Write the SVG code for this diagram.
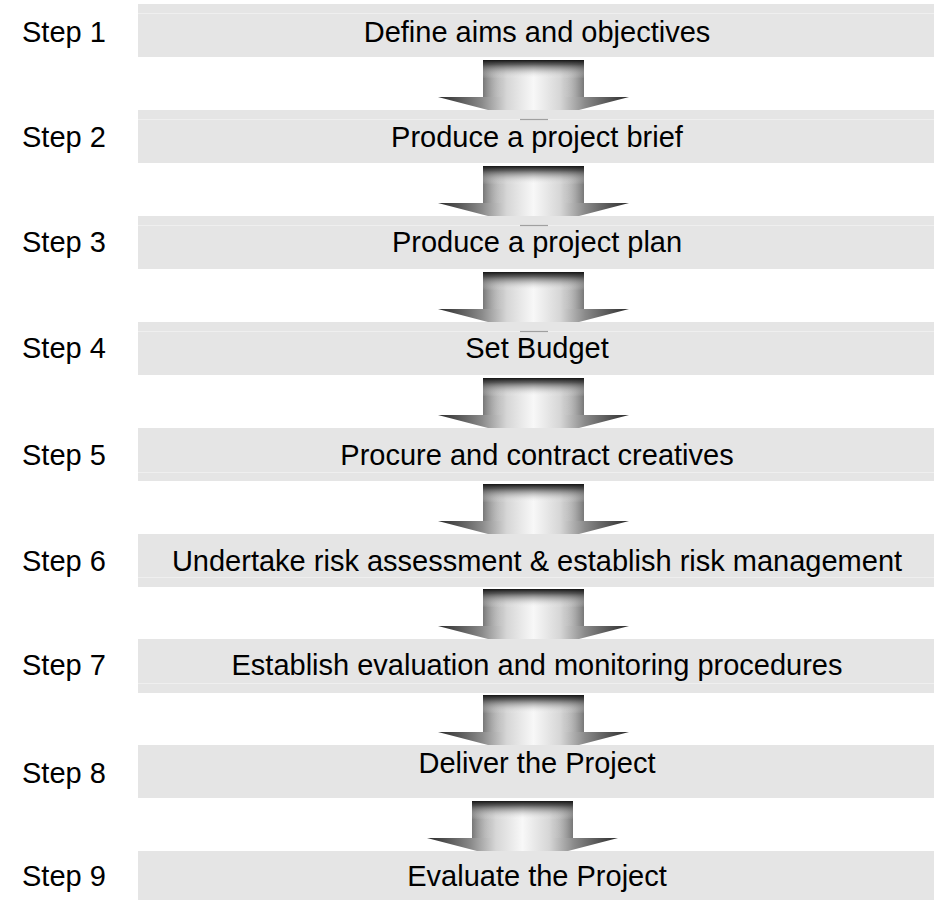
<svg xmlns="http://www.w3.org/2000/svg" width="934" height="900" viewBox="0 0 934 900">
  <style>
    .bar { fill: #e5e5e5; }
    .hl { stroke: #efefef; stroke-width: 1; }
    .t { font-family: "Liberation Sans", Arial, sans-serif; font-size: 29px; fill: #000; }
    .c { text-anchor: middle; }
    .tip { stroke: #a0a0a0; stroke-width: 1.2; }
  </style>
  <defs>
    <linearGradient id="gh" x1="0" y1="0" x2="1" y2="0">
      <stop offset="0" stop-color="#2a2a2a"/>
      <stop offset="0.23" stop-color="#8a8a8a"/>
      <stop offset="0.36" stop-color="#d6d6d6"/>
      <stop offset="0.5" stop-color="#f8f8f8"/>
      <stop offset="0.64" stop-color="#d6d6d6"/>
      <stop offset="0.77" stop-color="#8a8a8a"/>
      <stop offset="1" stop-color="#2a2a2a"/>
    </linearGradient>
    <linearGradient id="gv" x1="0" y1="0" x2="0" y2="1">
      <stop offset="0" stop-color="#141414" stop-opacity="1"/>
      <stop offset="0.12" stop-color="#3a3a3a" stop-opacity="0.8"/>
      <stop offset="0.5" stop-color="#ffffff" stop-opacity="0"/>
    </linearGradient>
    <linearGradient id="gs" x1="0" y1="0" x2="1" y2="0">
      <stop offset="0" stop-color="#606060" stop-opacity="0.5"/>
      <stop offset="0.2" stop-color="#ffffff" stop-opacity="0"/>
      <stop offset="0.8" stop-color="#ffffff" stop-opacity="0"/>
      <stop offset="1" stop-color="#606060" stop-opacity="0.5"/>
    </linearGradient>
    <g id="arrow">
      <polygon points="-50.5,0 50.5,0 50.5,37 95.5,37 45.5,50 -45.5,50 -95.5,37 -50.5,37" fill="url(#gh)"/>
      <rect x="-50.5" y="0" width="101" height="37" fill="url(#gs)"/>
      <rect x="-50.5" y="0" width="101" height="37" fill="url(#gv)"/>
    </g>
  </defs>
  <rect width="934" height="900" fill="#ffffff"/>

  <g id="step1">
    <rect class="bar" x="138" y="4" width="796" height="53"/>
    <line class="hl" x1="138" y1="13.5" x2="934" y2="13.5"/>
    <text class="t" x="22" y="42">Step 1</text>
    <text class="t c" x="537" y="42">Define aims and objectives</text>
  </g>
  <g id="step2">
    <rect class="bar" x="138" y="110" width="796" height="53"/>
    <line class="hl" x1="138" y1="119.5" x2="934" y2="119.5"/>
    <text class="t" x="22" y="147">Step 2</text>
    <text class="t c" x="537" y="147">Produce a project brief</text>
  </g>
  <g id="step3">
    <rect class="bar" x="138" y="216" width="796" height="53"/>
    <line class="hl" x1="138" y1="225.5" x2="934" y2="225.5"/>
    <text class="t" x="22" y="252">Step 3</text>
    <text class="t c" x="537" y="252">Produce a project plan</text>
  </g>
  <g id="step4">
    <rect class="bar" x="138" y="322" width="796" height="53"/>
    <line class="hl" x1="138" y1="331.5" x2="934" y2="331.5"/>
    <text class="t" x="22" y="358">Step 4</text>
    <text class="t c" x="537" y="358">Set Budget</text>
  </g>
  <g id="step5">
    <rect class="bar" x="138" y="428" width="796" height="53"/>
    <line class="hl" x1="138" y1="472.5" x2="934" y2="472.5"/>
    <text class="t" x="22" y="465">Step 5</text>
    <text class="t c" x="537" y="465">Procure and contract creatives</text>
  </g>
  <g id="step6">
    <rect class="bar" x="138" y="534" width="796" height="53"/>
    <line class="hl" x1="138" y1="577.5" x2="934" y2="577.5"/>
    <text class="t" x="22" y="571">Step 6</text>
    <text class="t c" x="537" y="571">Undertake risk assessment &amp; establish risk management</text>
  </g>
  <g id="step7">
    <rect class="bar" x="138" y="639" width="796" height="54"/>
    <line class="hl" x1="138" y1="683.5" x2="934" y2="683.5"/>
    <text class="t" x="22" y="675">Step 7</text>
    <text class="t c" x="537" y="675">Establish evaluation and monitoring procedures</text>
  </g>
  <g id="step8">
    <rect class="bar" x="138" y="745" width="796" height="53"/>
    <text class="t" x="22" y="783">Step 8</text>
    <text class="t c" x="537" y="773">Deliver the Project</text>
  </g>
  <g id="step9">
    <rect class="bar" x="138" y="851" width="796" height="49"/>
    <text class="t" x="22" y="886">Step 9</text>
    <text class="t c" x="537" y="886">Evaluate the Project</text>
  </g>

  <g id="connectors">
    <use href="#arrow" x="533.5" y="60"/>
    <use href="#arrow" x="533.5" y="166"/>
    <use href="#arrow" x="533.5" y="272"/>
    <use href="#arrow" x="533.5" y="378"/>
    <use href="#arrow" x="533.5" y="484"/>
    <use href="#arrow" x="533.5" y="589"/>
    <use href="#arrow" x="533.5" y="695"/>
    <use href="#arrow" x="522.5" y="801"/>
    <line class="tip" x1="520" y1="119.5" x2="548" y2="119.5"/>
    <line class="tip" x1="520" y1="225.5" x2="548" y2="225.5"/>
    <line class="tip" x1="520" y1="331.5" x2="548" y2="331.5"/>
  </g>
</svg>
